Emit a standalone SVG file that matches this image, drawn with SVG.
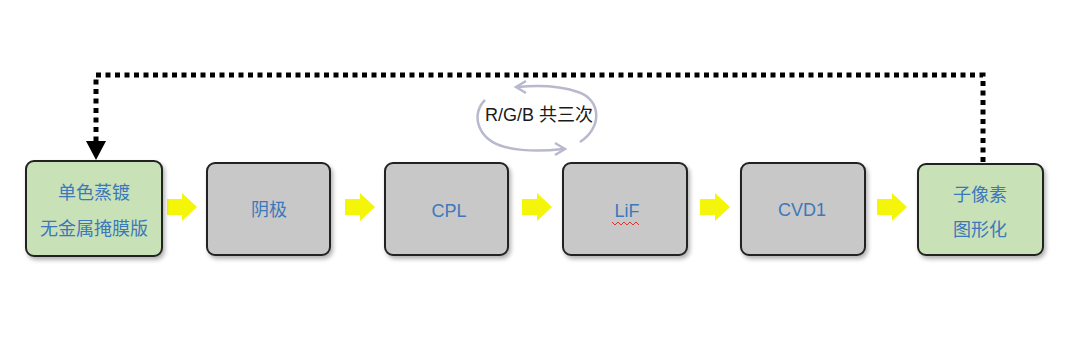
<svg xmlns="http://www.w3.org/2000/svg" width="1074" height="357" viewBox="0 0 1074 357">
<defs>
<filter id="sh" x="-10%" y="-10%" width="130%" height="130%">
<feDropShadow dx="2" dy="3" stdDeviation="2" flood-color="#000" flood-opacity="0.3"/>
</filter>
<path id="ya" d="M0,-8 L15,-8 L15,-14 L30,0 L15,14 L15,8 L0,8 Z"/>
</defs>
<style>
.box{stroke:#222;stroke-width:2;filter:url(#sh)}
.g{fill:#c9e1b6}
.n{fill:#c8c8c8}
.t{font-family:"Liberation Sans","Noto Sans CJK SC",sans-serif;font-size:18px;fill:#3c78bc;text-anchor:middle}
.y{fill:#f5f50a}
.cyc{fill:none;stroke:#b9b9cd;stroke-width:2.5}
</style>
<g id="connectors">
<path d="M983,162 L983,75 L96,75 L96,142" fill="none" stroke="#000" stroke-width="5" stroke-dasharray="5 4.5"/>
<path d="M86,141 L106,141 L96,160 Z" fill="#000"/>
<use href="#ya" class="y" x="167" y="207"/>
<use href="#ya" class="y" x="345" y="207"/>
<use href="#ya" class="y" x="522" y="207"/>
<use href="#ya" class="y" x="700" y="207"/>
<use href="#ya" class="y" x="877" y="207"/>
</g>
<g id="cycle">
<path class="cyc" d="M580,142 C602,128 602,100 578,92 C560,86 540,85 518,87"/>
<path class="cyc" d="M526,81 L516,87 L526,93"/>
<path class="cyc" d="M485,100 C470,115 478,140 505,147 C525,152 545,151 563,149"/>
<path class="cyc" d="M555,143 L565,149 L555,155"/>
<text x="539" y="121" font-family="Liberation Sans,'Noto Sans CJK SC',sans-serif" font-size="18" text-anchor="middle" fill="#1a1a1a">R/G/B 共三次</text>
</g>
<g id="n1"><rect class="box g" x="26" y="161" width="136" height="95" rx="8"/><text class="t" x="94" y="199">单色蒸镀</text><text class="t" x="94" y="235">无金属掩膜版</text></g>
<g id="n2"><rect class="box n" x="207" y="163" width="123" height="92" rx="8"/><text class="t" x="269" y="216">阴极</text></g>
<g id="n3"><rect class="box n" x="385" y="163" width="123" height="92" rx="8"/><text class="t" x="449" y="217">CPL</text></g>
<g id="n4"><rect class="box n" x="563" y="163" width="124" height="92" rx="8"/><text class="t" x="627" y="217">LiF</text><path d="M612,222 l3,3 l3,-3 l3,3 l3,-3 l3,3 l3,-3 l3,3 l3,-3 l3,3" fill="none" stroke="#e03030" stroke-width="1"/></g>
<g id="n5"><rect class="box n" x="741" y="163" width="124" height="92" rx="8"/><text class="t" x="802" y="216">CVD1</text></g>
<g id="n6"><rect class="box g" x="918" y="164" width="125" height="91" rx="8"/><text class="t" x="980" y="201">子像素</text><text class="t" x="980" y="236">图形化</text></g>
</svg>
